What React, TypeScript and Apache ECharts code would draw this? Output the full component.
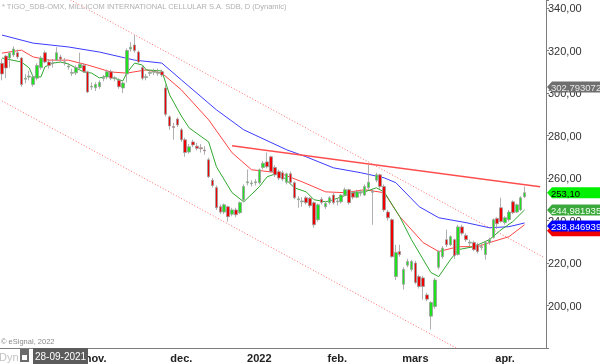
import React, { useEffect, useRef } from 'react';
import * as echarts from 'echarts';

// ---------- categories (trading days) ----------
const firstDay = [2021, 8, 28];
const lastDay = [2022, 3, 8];
const holidays = ['2021-12-24', '2021-12-27', '2021-12-31', '2022-01-06'];
const blankSlots = ['x1', 'x2', 'x3', 'x4', 'x5'];
const monthLabels: Record<string, string> = {
  '2021-11': 'nov.', '2021-12': 'dec.', '2022-01': '2022',
  '2022-02': 'feb.', '2022-03': 'mars', '2022-04': 'apr.',
};

function buildDays(): string[] {
  const out: string[] = [];
  const d = new Date(Date.UTC(firstDay[0], firstDay[1], firstDay[2]));
  const end = Date.UTC(lastDay[0], lastDay[1], lastDay[2]);
  while (d.getTime() <= end) {
    const wd = d.getUTCDay();
    const s = d.toISOString().slice(0, 10);
    if (wd !== 0 && wd !== 6 && !holidays.includes(s)) out.push(s);
    d.setUTCDate(d.getUTCDate() + 1);
  }
  return out;
}
const days = buildDays();
const categories = [...days, ...blankSlots];

// ---------- OHLC ----------
const openP = [
  314, 317.4, 316.5, 317.9, 319, 316.5, 306.5, 307.5, 304, 307,
  312, 319, 314.6, 313.8, 315.5, 317, 314.3, 312.3, 309.3, 309.5,
  311.8, 313, 310, 302.8, 302.5, 303, 306.8, 307.5, 310, 306.8,
  306, 302.4, 309, 320.7, 322.6, 319.3, 312, 307.3, 309.3, 309.8,
  309.3, 310, 302.4, 288.8, 284.2, 287.8, 282.7, 278, 272.3, 277,
  275, 274.2, 273.2, 268.6, 259, 255.5, 246.5, 244, 246.5, 243,
  245, 243.7, 249.8, 257.8, 257.3, 257.8, 257.8, 265, 267.6, 270,
  265, 263, 262.5, 258, 262, 257.8, 249.8, 248.8, 250.7, 250.5,
  248.4, 240.4, 250, 246.5, 248.4, 252, 248.8, 248.8, 252, 254.5,
  253, 251, 252.8, 252, 255.5, 253.3, 259, 261.5, 256, 244,
  240.4, 213.6, 225.4, 210, 219, 217, 220, 213.6, 213, 205,
  195, 199.5, 218, 223, 231, 228.6, 231, 224, 237, 233,
  229.4, 229.6, 228.6, 227.3, 224, 229.6, 232, 241, 246, 239,
  240.4, 248.8, 244, 245, 251.2,
];
const closeP = [
  309, 311.8, 318.8, 320.7, 317, 304, 307, 308, 307.5, 313,
  316.5, 314.6, 313, 314.2, 319, 316, 314.7, 312.7, 309.7, 312,
  313.6, 310, 300.5, 303.2, 304, 305, 307.2, 310, 307, 307.2,
  303, 304.7, 320, 321.6, 320, 314.6, 307, 307.7, 309.7, 310.2,
  309.7, 308.5, 290, 284.5, 283.8, 285, 278, 272, 274.7, 275.6,
  274, 273.8, 272.8, 260.6, 256.5, 246, 244, 247.4, 241.8, 245,
  242.7, 248.4, 256, 258.2, 257.7, 258.2, 263.9, 267, 265.3, 263,
  261.5, 260, 259.5, 262, 258, 250.7, 250.2, 249.2, 248.4, 247,
  238, 247.4, 248.5, 248, 250.7, 248.4, 249.2, 252, 254.5, 248.4,
  251, 253.5, 253.2, 256, 258, 253.7, 261.5, 256, 245, 241.3,
  223, 225, 224, 217, 220.7, 220.7, 210.8, 209, 209, 203,
  201.4, 212, 225.4, 227, 228.6, 232.4, 223.5, 237, 234, 231,
  229.8, 226.3, 225.4, 227.7, 229.6, 231, 240.4, 238.5, 239.5, 241.3,
  244, 243.7, 247.4, 250.7, 253.1,
];
const lowP = [
  306, 307, 312, 317, 316, 303, 304.5, 306, 303, 306,
  311, 314, 311.5, 312, 315, 314.5, 313, 311, 308, 308.5,
  311, 309.5, 300, 301.5, 301, 302, 305.5, 306.5, 306, 305.5,
  302, 300, 305, 319.5, 319, 314, 306, 306, 308, 308.5,
  308, 307.5, 289, 282.7, 278, 284, 277, 270, 271.5, 274.5,
  273, 272, 271, 260, 255.5, 245, 243, 243, 239.5, 242,
  241.5, 243, 249, 256.5, 256, 256.5, 257, 264, 264.5, 262.5,
  260.5, 259, 258.5, 257, 257, 250, 246, 246.5, 247.5, 246,
  236.6, 239.5, 247.5, 245.5, 247.5, 247.5, 247, 248, 251.5, 247.5,
  250, 250.5, 251.5, 251.5, 254.5, 238, 258, 255, 244, 240,
  222.5, 212, 223, 207.5, 218, 216, 210, 208, 202.8, 202,
  188.7, 198.5, 217, 222, 227.5, 228, 222, 223.5, 233, 230,
  228, 225.5, 224.5, 226, 221.6, 228.5, 231.5, 236, 239, 238,
  239.5, 243, 243.5, 244.5, 250.5,
];
const highP = [
  316, 318, 319.5, 322, 320.5, 317, 309, 310.5, 308.5, 314,
  317.5, 320, 316, 316, 321.6, 318, 316.5, 314, 311.5, 313,
  319, 314, 310.5, 305, 305, 306, 308.5, 311, 311, 308,
  307, 305.5, 321, 324, 327.3, 320, 313, 309, 311, 311.5,
  311.5, 311, 304, 289.5, 286, 288.5, 283.5, 279, 276, 278,
  276.5, 276, 275, 269.5, 260, 256.5, 247.5, 248, 247, 246,
  246, 249, 257, 264, 259, 259.5, 264.5, 268, 272, 270.5,
  266, 264, 263.5, 262.5, 263, 258.5, 251.5, 251, 251.5, 251,
  249, 248, 251, 249, 251.5, 253, 250.5, 252.5, 255.5, 255,
  254, 254.5, 254.5, 257, 266.2, 255, 262.5, 262, 257, 245,
  241, 228.6, 228.6, 218, 222, 221.5, 221, 214.5, 214, 206,
  202, 213, 226, 228, 235.7, 233, 231.5, 238, 238, 234,
  231, 230.5, 229.5, 229, 230.5, 232, 241, 241.5, 250.7, 242,
  245, 249.5, 248, 251.5, 256,
];

// ---------- indicator lines: [dayIndex, value] ----------
const maBlue: [number, number][] = [
  [0, 327.3], [8, 323.5], [17, 321.7], [25, 319.3], [34, 315.5], [41, 314.1],
  [46, 306.2], [55, 292.1], [62, 282.7], [73, 273.3], [78, 270], [85, 264.8],
  [92, 262.5], [98, 260.1], [101, 257.8], [107, 246.5], [112, 241.3], [119, 239],
  [125, 236.6], [130, 237.1], [134, 238.85],
];
const maRed: [number, number][] = [
  [0, 318.8], [5, 320.2], [8, 317], [12, 315.5], [17, 315.5], [22, 313.2],
  [28, 309.9], [32, 309.4], [37, 310.9], [41, 309.4], [46, 301.5], [53, 287.4],
  [59, 271.9], [64, 263.9], [71, 262.5], [77, 258.2], [83, 253.5], [88, 253.1],
  [93, 254.5], [98, 253.1], [102, 241.8], [108, 229.6], [112, 225.4], [117, 227.7],
  [122, 227.7], [125, 229.6], [130, 232.4], [134, 238],
];
const maGreen: [number, number][] = [
  [0, 316.5], [5, 314.6], [7, 311.8], [8, 307.6], [10, 307.6], [11, 312.3],
  [13, 314.1], [15, 314.6], [17, 313.7], [19, 311.8], [21, 309.9], [23, 309.4],
  [25, 307.1], [27, 308], [31, 305.7], [32, 309.4], [34, 314.1], [36, 313.2],
  [37, 310.9], [41, 310.4], [43, 299.1], [46, 289.2], [48, 283.6], [53, 277],
  [55, 265.3], [59, 253.1], [62, 248.8], [66, 255.9], [68, 260.6], [71, 262.5],
  [75, 255.4], [78, 253.5], [80, 249.8], [83, 248.8], [85, 249.8], [90, 253.1],
  [93, 253.5], [96, 255.4], [98, 253.5], [102, 241.8], [105, 231], [110, 215.5],
  [112, 213.6], [115, 221.6], [117, 226.3], [121, 227.7], [125, 231], [128, 235.7],
  [131, 239.5], [134, 244.98],
];
const trendLine: [number, number][] = [[59, 275.2], [138, 255.9]];
const channelUpper: [number, number][] = [[0, 361.4], [139, 222.6]];
const channelLower: [number, number][] = [[0, 296.3], [139, 157.5]];

// ---------- price tags on the right (red tag's text is hidden in the reference) ----------
const tagValues = [302.793072, 253.1, 244.981935, 238.0, 238.846939];
const tagTexts = ['302,793072', '253,10', '244,981935', '', '238,846939'];
const tagBg = ['#6f6f6f', '#00f000', '#3ba83b', '#f00000', '#0000ff'];
const tagFg = ['#e8e8e8', '#000000', '#f0fff0', '#ffffff', '#ffffff'];
const tagShift = [0, 0, 0, 6, 3];

const yTicks = { min: 180, max: 343.8, step: 20 };
const FONT = 'Liberation Sans, Arial, sans-serif';

export default function App() {
  const ref = useRef<HTMLDivElement>(null);
  useEffect(() => {
    document.body.style.margin = '0';
    const chart = echarts.init(ref.current!, undefined, { renderer: 'svg' });
    const firstOfMonth = new Set<number>();
    let prev = '';
    categories.forEach((c, i) => {
      const m = c.slice(0, 7);
      if (m !== prev && monthLabels[m]) firstOfMonth.add(i);
      prev = m;
    });
    const showIdx = (i: number) => firstOfMonth.has(i);
    const candleData = openP.map((o, i) => [o, closeP[i], lowP[i], highP[i]]);

    chart.setOption({
      animation: false,
      textStyle: { fontFamily: FONT },
      grid: { left: 0, right: 54, top: 0, bottom: 16 },
      xAxis: {
        type: 'category',
        data: categories,
        boundaryGap: true,
        axisLine: { lineStyle: { color: '#7c7c7c', width: 1 } },
        axisTick: { interval: showIdx, alignWithLabel: true, length: 3, lineStyle: { color: '#7c7c7c' } },
        axisLabel: {
          interval: showIdx,
          formatter: (v: string) => monthLabels[v.slice(0, 7)] ?? '',
          fontSize: 11, fontWeight: 'bold', color: '#222', margin: 4, fontFamily: FONT,
        },
        splitLine: { show: false },
      },
      yAxis: {
        type: 'value',
        position: 'right',
        min: yTicks.min, max: yTicks.max, interval: yTicks.step,
        axisLine: { show: true, lineStyle: { color: '#7c7c7c' } },
        axisTick: { show: true, length: 3, lineStyle: { color: '#7c7c7c' } },
        axisLabel: {
          margin: 2, fontSize: 11, color: '#333', fontFamily: FONT,
          formatter: (v: number) => (v % 20 === 0 && v > 190 ? v.toFixed(2).replace('.', ',') : ''),
        },
        splitLine: { show: false },
      },
      series: [
        { type: 'line', data: channelUpper, symbol: 'none', lineStyle: { color: '#ff6a6a', width: 1, type: [1, 2] }, z: 1 },
        { type: 'line', data: channelLower, symbol: 'none', lineStyle: { color: '#ff6a6a', width: 1, type: [1, 2] }, z: 1 },
        { type: 'line', data: maBlue, symbol: 'none', connectNulls: true, lineStyle: { color: '#3b3bff', width: 1 }, z: 2 },
        { type: 'line', data: maRed, symbol: 'none', connectNulls: true, lineStyle: { color: '#ff4444', width: 1 }, z: 2 },
        { type: 'line', data: maGreen, symbol: 'none', connectNulls: true, lineStyle: { color: '#2fa82f', width: 1 }, z: 2 },
        {
          type: 'candlestick', data: candleData, barWidth: 3, z: 3,
          itemStyle: { color: '#1ee01e', color0: '#ee0000', borderColor: '#9c9c9c', borderColor0: '#9c9c9c', borderWidth: 0.8 },
        },
        { type: 'line', data: trendLine, symbol: 'none', lineStyle: { color: '#ff4d4d', width: 1.5 }, z: 4 },
        {
          type: 'custom', z: 20, clip: false, silent: true,
          data: tagValues.map((v) => [134, v]),
          renderItem: (params: any, api: any) => {
            const i = params.dataIndex;
            const pt = api.coord([api.value(0), api.value(1)]);
            const cs = params.coordSys;
            const xr = cs.x + cs.width;
            const y = pt[1] + tagShift[i];
            const h = 5.5;
            const children: any[] = [
              { type: 'polygon', shape: { points: [[xr + 1, y], [xr + 6, y - h], [xr + 70, y - h], [xr + 70, y + h], [xr + 6, y + h]] }, style: { fill: tagBg[i] } },
            ];
            if (tagTexts[i]) {
              children.push({ type: 'text', style: { text: tagTexts[i], x: xr + 5, y: y + 0.5, verticalAlign: 'middle', fill: tagFg[i], fontSize: 9.5, fontFamily: FONT } });
            }
            return { type: 'group', children };
          },
        },
      ],
      graphic: [
        { type: 'text', left: 2, top: 2, z: 100, style: { text: '* TIGO_SDB-OMX, MILLICOM INTERNATIONAL CELLULAR S.A. SDB, D (Dynamic)', fill: '#b0b0b0', fontSize: 7.5, fontFamily: FONT } },
        { type: 'text', left: 1, top: 337, z: 100, style: { text: '© eSignal, 2022', fill: '#8a8a8a', fontSize: 7.5, fontFamily: FONT } },
        { type: 'text', left: -1, top: 351, z: 100, style: { text: 'Dyn', fill: '#c4c4c4', fontSize: 11, fontFamily: FONT } },
        { type: 'rect', left: 20, top: 349, z: 100, shape: { width: 9, height: 13 }, style: { fill: '#6a6a6a' } },
        { type: 'rect', left: 22, top: 355, z: 101, shape: { width: 5, height: 5 }, style: { fill: '#ffffff' } },
        { type: 'rect', left: 33, top: 348, z: 100, shape: { width: 55, height: 16 }, style: { fill: '#5c5c5c' } },
        { type: 'text', left: 35, top: 351, z: 101, style: { text: '28-09-2021', fill: '#ffffff', fontSize: 10, fontFamily: FONT } },
      ],
    });
    return () => chart.dispose();
  }, []);
  return <div ref={ref} style={{ position: 'fixed', left: 0, top: 0, width: 600, height: 364 }} />;
}
